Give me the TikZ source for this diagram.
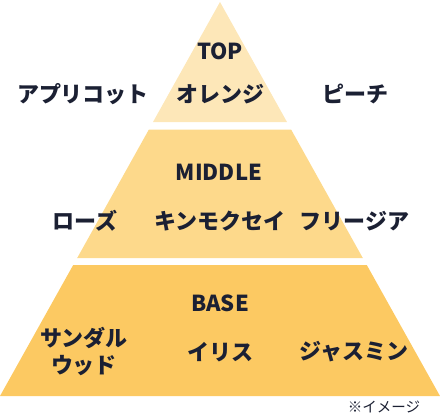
\documentclass[tikz,border=0pt]{standalone}
\usepackage{fontspec}
\newfontfamily\jpfont{Noto Sans CJK JP}
\usetikzlibrary{positioning}
\definecolor{topfill}{HTML}{FDE7B8}
\definecolor{midfill}{HTML}{FDD98B}
\definecolor{basefill}{HTML}{FCC962}
\definecolor{ink}{HTML}{1B2033}

\begin{document}
\begin{tikzpicture}[x=1pt, y=-1pt,
    note/.style={font=\jpfont\bfseries\fontsize{22}{27}\selectfont, text=ink, inner sep=0pt, align=center},
    layer/.style={note},
]
    \useasboundingbox (0,0) rectangle (440,416);

    % tiers
    \fill[topfill] (220,2) -- (287,122) -- (153,122) -- cycle;
    \fill[midfill] (148.9,129.5) -- (291.1,129.5) -- (362.8,258) -- (77.2,258) -- cycle;
    \fill[basefill] (73.2,265) -- (366.8,265) -- (440,396) -- (0,396) -- cycle;

    % top notes
    \node[layer] (top) at (220,51) {TOP};
    \node[note] (orange) at (220,94) {オレンジ};
    \node[note] (apricot) at (83,94) {アプリコット};
    \node[note] (peach) at (355,94) {ピーチ};

    % middle notes
    \node[layer] (middle) at (219,172.5) {MIDDLE};
    \node[note] (rose) at (85,221) {ローズ};
    \node[note] (osmanthus) at (220,221) {キンモクセイ};
    \node[note] (freesia) at (354.5,221) {フリージア};

    % base notes
    \node[layer] (base) at (220,303.5) {BASE};
    \node[note] (sandal) at (84,351.5) {サンダル\\ウッド};
    \node[note] (iris) at (220,352) {イリス};
    \node[note] (jasmine) at (354,352) {ジャスミン};

    \node[note, font=\jpfont\fontsize{14.5}{17}\selectfont] (remark) at (384,407) {※イメージ};
\end{tikzpicture}
\end{document}
